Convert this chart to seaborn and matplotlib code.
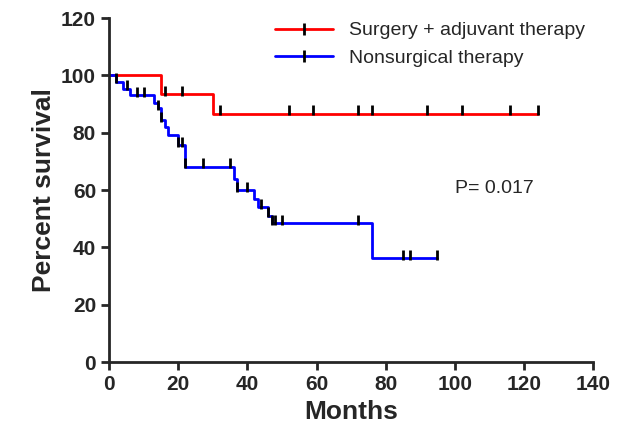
import numpy as np
import pandas as pd
import matplotlib
matplotlib.use("Agg")
import matplotlib.pyplot as plt
import seaborn as sns

# survival steps (time, percent)
surg_t = [0, 15, 30, 124]
surg_s = [100, 93.5, 86.7, 86.7]
surg_cens = [16, 21, 32, 52, 59, 72, 76, 92, 102, 116, 124]

non_t = [0, 2, 4, 6, 13, 14, 15, 16, 17, 20, 22, 36, 37, 42, 43, 46, 47, 76, 95]
non_s = [100, 97.8, 95.4, 93.1, 90.5, 88.5, 84.4, 82, 79.2, 75.7, 68.1, 64, 60, 57, 54, 51, 48.4, 36.2, 36.2]
non_cens = [2, 5, 8, 10, 14, 15, 20, 21, 22, 27, 35, 37, 40, 44, 46, 47, 48, 50, 72, 85, 87, 95]

sns.set_style("ticks")
plt.rcParams['font.family'] = ['Liberation Sans', 'DejaVu Sans']

fig = plt.figure(figsize=(6.28, 4.4), dpi=100)
ax = fig.add_axes([0.174, 0.177, 0.77, 0.782])

def surv_at(t, ts, ss):
    idx = np.searchsorted(ts, t, side='right') - 1
    return ss[idx]

for ts, ss, cens, col in [(surg_t, surg_s, surg_cens, 'red'),
                          (non_t, non_s, non_cens, 'blue')]:
    df = pd.DataFrame({'t': ts, 's': ss})
    sns.lineplot(data=df, x='t', y='s', drawstyle='steps-post', color=col, lw=2, ax=ax, legend=False)
    cy = [surv_at(c, ts, ss) + 1.2 for c in cens]
    ax.scatter(cens, cy, marker='|', color='black', s=50, linewidths=2, zorder=3)

from matplotlib.lines import Line2D
handles = [Line2D([], [], color='red', lw=2, marker='|', mec='black', ms=9, mew=2),
           Line2D([], [], color='blue', lw=2, marker='|', mec='black', ms=9, mew=2)]
ax.legend(handles, ['Surgery + adjuvant therapy', 'Nonsurgical therapy'], loc='upper right',
          frameon=False, fontsize=14, handlelength=3, bbox_to_anchor=(1.02, 1.04))

ax.text(100, 59, 'P= 0.017', fontsize=14)
ax.set_xlim(0, 140)
ax.set_ylim(0, 120)
ax.set_xticks(range(0, 141, 20))
ax.set_yticks(range(0, 121, 20))
for lbl in ax.get_xticklabels() + ax.get_yticklabels():
    lbl.set_fontweight('bold')
ax.tick_params(labelsize=15, width=2, length=6)
ax.set_xlabel('Months', fontsize=19, fontweight='bold')
ax.set_ylabel('Percent survival', fontsize=19, fontweight='bold')
for sp in ['left', 'bottom']:
    ax.spines[sp].set_linewidth(2)
sns.despine(ax=ax)
fig.savefig('out.png', dpi=100)
